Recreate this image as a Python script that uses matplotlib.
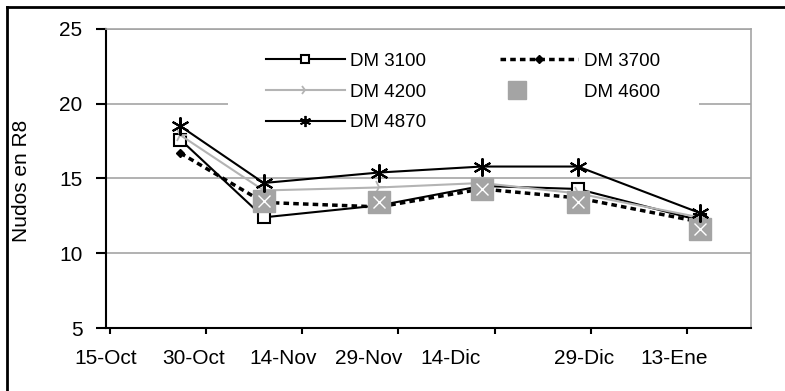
import numpy as np
import matplotlib
matplotlib.use("Agg")
import matplotlib.pyplot as plt
from matplotlib.lines import Line2D
from matplotlib.patches import Rectangle
from matplotlib.legend_handler import HandlerTuple

plt.rcParams['font.family'] = ['Liberation Sans', 'DejaVu Sans']

# days after 15-Oct for each sampling date
days = [11, 24, 42, 58, 73, 92]

dm3100 = [17.6, 12.4, 13.2, 14.5, 14.3, 12.2]
dm3700 = [16.7, 13.4, 13.1, 14.3, 13.7, 12.1]
dm4200 = [17.9, 14.2, 14.4, 14.7, 14.0, 12.4]
dm4600 = [np.nan, 13.5, 13.4, 14.3, 13.4, 11.6]
dm4870 = [18.5, 14.7, 15.4, 15.8, 15.8, 12.7]

tick_days = [0, 15, 30, 45, 60, 75, 90]
label_days = [-0.6, 13, 27, 40.3, 53.2, 74, 88]
tick_labels = ['15-Oct', '30-Oct', '14-Nov', '29-Nov', '14-Dic', '29-Dic', '13-Ene']
y_ticks = [5, 10, 15, 20, 25]

fig = plt.figure(figsize=(7.85, 3.91), dpi=100)
ax = fig.add_axes([106/785, 63/391, 645/785, 299/391])

gray = '#a4a4a4'
light = '#b4b4b4'

ax.plot(days, dm3100, color='black', lw=1.5, marker='s', ms=9,
        mfc='white', mec='black', mew=1.5, zorder=3)
ax.plot(days, dm3700, color='black', lw=2.5, dashes=(1.6, 1.2),
        marker='D', ms=4.5, mfc='black', mec='black', zorder=3)
ax.plot(days, dm4200, color=light, lw=1.5, marker='4', ms=10,
        mew=1.3, mec=light, zorder=3)
ax.plot(days, dm4600, ls='none', marker='s', ms=16, mfc=gray,
        mec=gray, zorder=4)
ax.plot(days, dm4600, ls='none', marker='x', ms=8, mec='white',
        mew=1.0, zorder=4.1)
ax.plot(days, dm4870, color='black', lw=1.5, marker=(6, 2, 0),
        ms=13, mew=1.5, mec='black', zorder=5)

ax.set_xlim(0, 100)
ax.set_ylim(5, 25)
ax.set_yticks(y_ticks)
ax.set_xticks(tick_days)
ax.set_xticklabels([])
ax.set_xticks(label_days, minor=True)
ax.set_xticklabels(tick_labels, minor=True, fontsize=15)
ax.tick_params(axis='x', which='major', direction='out', length=4, width=1.5)
ax.tick_params(axis='x', which='minor', length=0, pad=15)
ax.tick_params(axis='y', direction='out', length=7, width=1.5, pad=10,
               labelsize=15)

ax.grid(axis='y', color=gray, lw=1.2)
ax.set_axisbelow(True)
ax.spines['left'].set_linewidth(1.5)
ax.spines['bottom'].set_linewidth(1.5)
for s in ['top', 'right']:
    ax.spines[s].set_color(gray)
    ax.spines[s].set_linewidth(1.2)

ax.set_ylabel('Nudos en R8', fontsize=15)
ax.yaxis.set_label_coords((31 - 106) / 645, (328 - 181) / 299)

# white area behind the legend hides the gridline
ax.add_patch(Rectangle(((228-106)/645, (328-140)/299), (699-228)/645, 100/299,
                       transform=ax.transAxes, facecolor='white',
                       edgecolor='none', zorder=1.5))

# legend handles with the smaller markers used in the key
h3100 = Line2D([], [], color='black', lw=1.5, marker='s', ms=5.5,
               mfc='white', mec='black', mew=1.5)
h3700 = Line2D([], [], color='black', lw=2.5, dashes=(1.6, 1.2),
               marker='D', ms=4.5, mfc='black', mec='black')
h4200 = Line2D([], [], color=light, lw=1.5, marker='4', ms=8,
               mew=1.3, mec=light)
h4600 = Line2D([], [], ls='none', marker='s', ms=13, mfc=gray, mec=gray)
x4600 = Line2D([], [], ls='none', marker='x', ms=6, mec='white', mew=1.0)
h4870 = Line2D([], [], color='black', lw=1.5, marker=(6, 2, 0),
               ms=8, mew=1.3, mec='black')

handles = [h3100, h4200, h4870, h3700, (h4600, x4600)]
labels = ['DM 3100', 'DM 4200', 'DM 4870', 'DM 3700', 'DM 4600']
leg = fig.legend(handles, labels, ncol=2, loc='upper left',
                 bbox_to_anchor=(249/785, 1 - 36/391), frameon=False,
                 fontsize=13.5, handlelength=4.2, handletextpad=0.3,
                 columnspacing=3.9, labelspacing=0.72, borderpad=0.4,
                 handler_map={tuple: HandlerTuple(ndivide=None)})

# outer figure frame (top and left edges)
fig.add_artist(Line2D([7/785, 7/785], [0, 1 - 7/391], color='black', lw=2,
                      transform=fig.transFigure))
fig.add_artist(Line2D([7/785, 1], [1 - 7/391, 1 - 7/391], color='black', lw=2,
                      transform=fig.transFigure))

fig.savefig('out.png', dpi=100)
